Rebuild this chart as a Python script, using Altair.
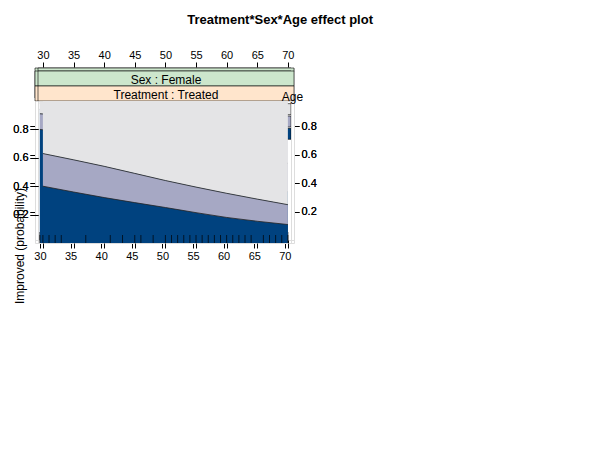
import pandas as pd
import altair as alt

FONT = "Liberation Sans"
ages = [30, 40, 50, 60, 70]

# cumulative probabilities: upper edge of None, upper edge of Some
male_placebo_none = [0.92, 0.89, 0.85, 0.81, 0.75]
male_placebo_some = [0.965, 0.95, 0.935, 0.91, 0.88]
male_treated_none = [0.70, 0.62, 0.53, 0.44, 0.34]
male_treated_some = [0.85, 0.79, 0.72, 0.64, 0.54]
female_placebo_none = [0.80, 0.74, 0.67, 0.58, 0.47]
female_placebo_some = [0.91, 0.88, 0.83, 0.76, 0.67]
female_treated_none = [0.40, 0.32, 0.25, 0.18, 0.13]
female_treated_some = [0.63, 0.54, 0.44, 0.35, 0.27]

rug_male = [30, 32, 37, 41, 44, 45, 46, 48, 49, 51, 53, 54, 55, 56, 57, 58, 59, 60, 61, 62, 63, 64, 65, 66, 67, 68, 69, 70]
rug_female = [30, 31, 32, 33, 37, 41, 43, 45, 46, 48, 50, 51, 52, 53, 54, 55, 56, 57, 58, 59, 60, 61, 62, 63, 64, 66, 67, 68, 69, 70]

cats = ["None", "Some", "Marked"]
colors = ["#00427F", "#A6A8C4", "#E4E4E6"]

W, H, SH = 256, 142, 15
xdom = [29.2, 71]
XS = alt.Scale(domain=xdom, nice=False)
YS = alt.Scale(domain=[0, 1.0], nice=False)


def xaxis(show=False, orient="bottom"):
    return alt.Axis(values=list(range(30, 75, 5)), title=None, tickColor="black",
                    domain=False, grid=False, orient=orient, labelFontSize=11,
                    labelColor="black", tickSize=5, labelOpacity=1 if show else 0)


def yaxis(show=False, orient="left"):
    return alt.Axis(values=[0.2, 0.4, 0.6, 0.8], title=None, tickColor="black",
                    domain=False, grid=False, orient=orient, labelFontSize=11,
                    labelColor="black", tickSize=5, labelOpacity=1 if show else 0)


def strip(text, fill):
    base = alt.Chart(pd.DataFrame({"t": [text]})).properties(width=W, height=SH)
    r = base.mark_rect(fill=fill, stroke="black", strokeWidth=0.6).encode(
        x=alt.value(0), x2=alt.value(W), y=alt.value(0), y2=alt.value(SH))
    t = base.mark_text(font=FONT, fontSize=12, baseline="middle").encode(
        x=alt.value(W / 2), y=alt.value(SH / 2 + 1), text="t:N")
    return r + t


def header(show):
    return alt.Chart(pd.DataFrame({"a": [50]})).mark_point(opacity=0).encode(
        x=alt.X("a:Q", scale=XS,
                axis=alt.Axis(values=list(range(30, 75, 5)), orient="top", title=None,
                              domain=False, grid=False, labelFontSize=11,
                              labelColor="black", tickColor="black", tickSize=5,
                              labelOpacity=1 if show else 0, tickOpacity=1 if show else 0))
    ).properties(width=W, height=1, view=alt.ViewConfig(stroke=None))


def panel(none, some, rug, sex, trt, xa, ya, legend=False):
    rows = []
    for i, a in enumerate(ages):
        rows.append(dict(age=a, cat="None", lo=0, hi=none[i]))
        rows.append(dict(age=a, cat="Some", lo=none[i], hi=some[i]))
        rows.append(dict(age=a, cat="Marked", lo=some[i], hi=1))
    df = pd.DataFrame(rows)
    area = alt.Chart(df).mark_area(interpolate="monotone").encode(
        x=alt.X("age:Q", scale=XS, axis=xa),
        y=alt.Y("lo:Q", scale=YS, axis=ya),
        y2="hi:Q",
        color=alt.Color("cat:N", scale=alt.Scale(domain=cats, range=colors), legend=None),
        detail="cat:N",
    )
    line = alt.Chart(df[df.cat != "Marked"]).mark_line(
        interpolate="monotone", color="#222", strokeWidth=0.8).encode(
        x=alt.X("age:Q", scale=XS, axis=xa),
        y=alt.Y("hi:Q", scale=YS, axis=ya),
        detail="cat:N")
    ticks = alt.Chart(pd.DataFrame({"age": rug})).mark_tick(
        color="black", size=8, thickness=1, orient="vertical").encode(
        x=alt.X("age:Q", scale=XS, axis=xa), y=alt.value(H - 4))
    layers = [area, line, ticks]
    if legend:
        ld = pd.DataFrame({"cat": cats[::-1], "k": [0, 1, 2]})
        ks = alt.Scale(range=[5, 42])
        box = alt.Chart(ld).mark_rect(stroke="black", strokeWidth=0.6, height=11).encode(
            x=alt.value(W - 38), x2=alt.value(W - 3),
            y=alt.Y("k:O", axis=None, scale=ks),
            color=alt.Color("cat:N", scale=alt.Scale(domain=cats, range=colors), legend=None))
        lab = alt.Chart(ld).mark_text(font=FONT, fontSize=12, align="left", baseline="middle").encode(
            x=alt.value(W - 97),
            y=alt.Y("k:O", axis=None, scale=ks),
            text="cat:N")
        layers += [box, lab]
    plot = alt.layer(*layers).resolve_scale(y="independent").properties(width=W, height=H)
    return plot, strip("Sex : " + sex, "#CCE6CC"), strip("Treatment : " + trt, "#FFE5CC")


def column(parts, hdr=None):
    plot, s1, s2 = parts
    items = ([hdr] if hdr is not None else []) + [s1, s2, plot]
    return alt.vconcat(*items, spacing=0, bounds="flush")


p11 = panel(male_placebo_none, male_placebo_some, rug_male, "Male", "Placebo",
            xaxis(), yaxis())
p12 = panel(male_treated_none, male_treated_some, rug_male, "Male", "Treated",
            xaxis(), yaxis(show=True, orient="right"), legend=True)
p21 = panel(female_placebo_none, female_placebo_some, rug_female, "Female", "Placebo",
            xaxis(show=True), yaxis(show=True))
p22 = panel(female_treated_none, female_treated_some, rug_female, "Female", "Treated",
            xaxis(), yaxis())

top = alt.hconcat(column(p11, header(False)), column(p12, header(True)), spacing=3, bounds="flush")
bottom = alt.hconcat(column(p21), column(p22), spacing=3, bounds="flush")
grid = alt.vconcat(top, bottom, spacing=4, bounds="flush")

xtitle = alt.Chart(pd.DataFrame({"t": ["Age"]})).mark_text(
    font=FONT, fontSize=12, baseline="middle").encode(
    x=alt.value(W + 1.5), y=alt.value(8), text="t:N"
).properties(width=2 * W + 3, height=16, view=alt.ViewConfig(stroke=None))
ytitle = alt.Chart(pd.DataFrame({"t": ["Improved (probability)"]})).mark_text(
    font=FONT, fontSize=12, angle=270, baseline="middle").encode(
    x=alt.value(7), y=alt.value(178), text="t:N"
).properties(width=14, height=2 * (H + 2 * SH) + 4, view=alt.ViewConfig(stroke=None))

main = alt.vconcat(grid, xtitle, spacing=22, bounds="flush")
chart = alt.hconcat(
    alt.vconcat(alt.Chart(pd.DataFrame({"a": [0]})).mark_point(opacity=0).encode(
        x=alt.value(0)).properties(width=14, height=1, view=alt.ViewConfig(stroke=None)),
        ytitle, spacing=0, bounds="flush"),
    main, spacing=22, bounds="flush"
).properties(
    title=alt.Title("Treatment*Sex*Age effect plot", fontSize=13, font=FONT,
                    fontWeight="bold", anchor="middle", offset=22)
).configure_view(stroke="black", strokeWidth=0.8).configure(
    font=FONT, padding={"left": 2, "right": 2, "top": 6, "bottom": 2}
).configure_axis(labelFont=FONT, titleFont=FONT)

chart.save("out.html", embed_options={"renderer": "svg", "actions": False})
